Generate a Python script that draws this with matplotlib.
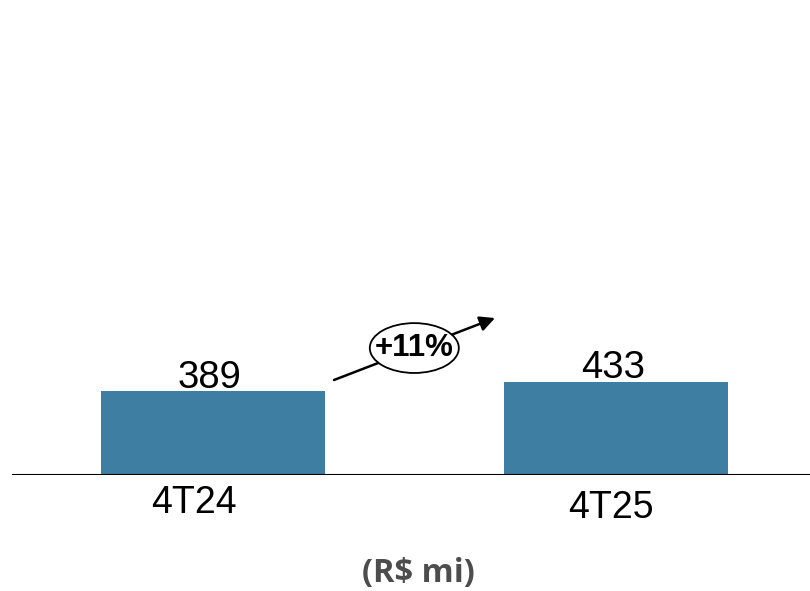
import matplotlib
matplotlib.use("Agg")
import matplotlib.pyplot as plt
from matplotlib.patches import Ellipse

categories = ["4T24", "4T25"]
values = [389, 433]
growth_label = "+11%"
unit_label = "(R$ mi)"

BAR = "#3d7ea2"
GREY = "#4d4d4d"

W, H = 810, 591
fig = plt.figure(figsize=(W / 100, H / 100), dpi=100)
# axes: baseline at 475 px from top, spans x 12..810
ax = fig.add_axes([12 / W, (H - 475) / H, 798 / W, 475 / H])
ax.set_xlim(-0.498, 1.4796)
ax.set_ylim(0, 2200)
ax.axis("off")

xs = range(len(categories))
ax.bar(xs, values, width=0.555, color=BAR, zorder=2)
ax.axhline(0, color="black", lw=1.5, zorder=3)

label_drop = [20.5, 23.5]  # pt below baseline for category labels
label_shift = [-14, -4]    # pt horizontal nudge for category labels
for x, cat, v, d, s in zip(xs, categories, values, label_drop, label_shift):
    ax.annotate(f"{v}", (x, v), xytext=(-2.5, 2.5), textcoords="offset points",
                ha="center", va="baseline", fontsize=27.5, family="Liberation Sans")
    ax.annotate(cat, (x, 0), xytext=(s, -d), textcoords="offset points",
                ha="center", va="center", fontsize=27, family="Liberation Sans")

# growth arrow + ellipse badge
ax.annotate("", xy=(0.699, 727), xytext=(0.30, 440),
            arrowprops=dict(arrowstyle="-|>,head_length=0.9,head_width=0.45",
                            color="black", lw=1.8, shrinkA=0, shrinkB=0), zorder=4)
ax.add_patch(Ellipse((0.499, 588), 0.2206, 231, facecolor="white",
                     edgecolor="black", lw=1.3, zorder=5))
ax.text(0.499, 590, growth_label, ha="center", va="center", fontsize=22.5,
        fontweight="bold", family="Liberation Sans", zorder=6)

fig.text(418 / W, 1 - 582 / H, unit_label, ha="center", va="baseline", fontsize=23.5,
         fontweight="bold", color=GREY, family="Open Sans")

fig.savefig("out.png", dpi=100)
